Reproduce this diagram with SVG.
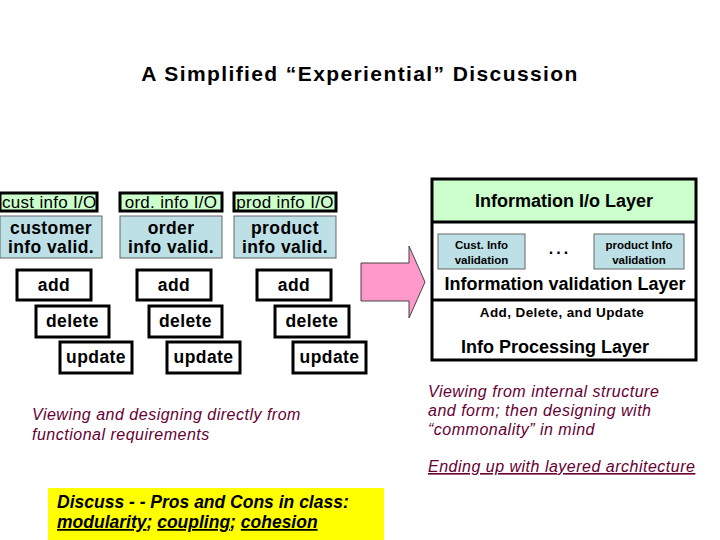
<svg xmlns="http://www.w3.org/2000/svg" width="720" height="540" viewBox="0 0 720 540">
<style>
  .io{fill:#ccffcc;stroke:#000;stroke-width:3}
  .val{fill:#bde0e6;stroke:#666;stroke-width:1}
  .op{fill:#fff;stroke:#000;stroke-width:3}
  .t{font-family:"Liberation Sans",Arial,sans-serif;fill:#000}
  .iot{font-size:17px;letter-spacing:0.3px}
  .b{font-weight:bold}
  .lt{font-size:17.5px;font-weight:bold;letter-spacing:0.4px}
  .lay{font-size:18px;font-weight:bold}
  .sm{font-size:11.5px;font-weight:bold}
  .it{font-family:"Liberation Sans",Arial,sans-serif;font-style:italic;font-size:16px;fill:#660033;letter-spacing:0.5px}
  .u{text-decoration:underline}
</style>
<rect width="720" height="540" fill="#fff"/>
<g id="title">
  <text class="t b" x="360" y="81" font-size="21" letter-spacing="1.4" text-anchor="middle">A Simplified “Experiential” Discussion</text>
</g>

<g id="cust-io"><rect class="io" x="0" y="193" width="97" height="18"/><text class="t iot" x="2" y="208">cust info I/O</text></g>
<g id="ord-io"><rect class="io" x="120" y="193" width="102" height="18"/><text class="t iot" x="171" y="208" text-anchor="middle">ord. info I/O</text></g>
<g id="prod-io"><rect class="io" x="234" y="193" width="102" height="18"/><text class="t iot" x="285" y="208" text-anchor="middle">prod info I/O</text></g>

<g id="cust-val"><rect class="val" x="0" y="216" width="102" height="42"/><text class="t lt" x="51" y="234" text-anchor="middle">customer</text><text class="t lt" x="51" y="253" text-anchor="middle">info valid.</text></g>
<g id="ord-val"><rect class="val" x="120" y="216" width="102" height="42"/><text class="t lt" x="171" y="234" text-anchor="middle">order</text><text class="t lt" x="171" y="253" text-anchor="middle">info valid.</text></g>
<g id="prod-val"><rect class="val" x="234" y="216" width="102" height="42"/><text class="t lt" x="285" y="234" text-anchor="middle">product</text><text class="t lt" x="285" y="253" text-anchor="middle">info valid.</text></g>

<g id="add1"><rect class="op" x="17" y="270" width="74" height="30"/><text class="t lt" x="54" y="291" text-anchor="middle">add</text></g>
<g id="add2"><rect class="op" x="137" y="270" width="74" height="30"/><text class="t lt" x="174" y="291" text-anchor="middle">add</text></g>
<g id="add3"><rect class="op" x="257" y="270" width="74" height="30"/><text class="t lt" x="294" y="291" text-anchor="middle">add</text></g>

<g id="delete1"><rect class="op" x="36" y="306" width="73" height="31"/><text class="t lt" x="72.5" y="327" text-anchor="middle">delete</text></g>
<g id="delete2"><rect class="op" x="149" y="306" width="73" height="31"/><text class="t lt" x="185.5" y="327" text-anchor="middle">delete</text></g>
<g id="delete3"><rect class="op" x="275" y="306" width="74" height="31"/><text class="t lt" x="312" y="327" text-anchor="middle">delete</text></g>

<g id="update1"><rect class="op" x="60" y="342" width="72" height="31"/><text class="t lt" x="96" y="363" text-anchor="middle">update</text></g>
<g id="update2"><rect class="op" x="167" y="342" width="73" height="31"/><text class="t lt" x="203.5" y="363" text-anchor="middle">update</text></g>
<g id="update3"><rect class="op" x="293" y="342" width="73" height="31"/><text class="t lt" x="329.5" y="363" text-anchor="middle">update</text></g>

<g id="connectors">
  <polygon points="361,263 409,263 409,246 425,282 409,318 409,301 361,301" fill="#ff99cc" stroke="#444" stroke-width="1"/>
</g>

<g id="layers">
  <rect x="432" y="179" width="264" height="43" fill="#ccffcc"/>
  <rect x="432" y="179" width="264" height="181" fill="none" stroke="#000" stroke-width="3"/>
  <line x1="432" y1="222" x2="696" y2="222" stroke="#000" stroke-width="3"/>
  <line x1="432" y1="300" x2="696" y2="300" stroke="#000" stroke-width="3"/>
  <text class="t lay" x="564" y="207" text-anchor="middle">Information I/o Layer</text>
  <text class="t lay" x="565" y="290" text-anchor="middle">Information validation Layer</text>
  <text class="t b" x="562" y="317" font-size="13.5" letter-spacing="0.4" text-anchor="middle">Add, Delete, and Update</text>
  <text class="t lay" x="555" y="353" text-anchor="middle">Info Processing Layer</text>
</g>
<g id="cust-info-validation"><rect class="val" x="438" y="234" width="87" height="35"/><text class="t sm" x="481.5" y="249" text-anchor="middle">Cust. Info</text><text class="t sm" x="481.5" y="264" text-anchor="middle">validation</text></g>
<g id="ellipsis"><text class="t b" x="560" y="254" font-size="16" letter-spacing="3" text-anchor="middle">...</text></g>
<g id="product-info-validation"><rect class="val" x="594" y="234" width="90" height="35"/><text class="t sm" x="639" y="249" text-anchor="middle">product Info</text><text class="t sm" x="639" y="264" text-anchor="middle">validation</text></g>

<g id="left-note">
  <text class="it" x="32" y="420">Viewing and designing directly from</text>
  <text class="it" x="32" y="440">functional requirements</text>
</g>
<g id="right-note">
  <text class="it" x="428" y="397">Viewing from internal structure</text>
  <text class="it" x="428" y="416">and form; then designing with</text>
  <text class="it" x="428" y="435">“commonality” in mind</text>
  <text class="it u" x="428" y="472">Ending up with layered architecture</text>
</g>
<g id="discuss">
  <rect x="48" y="488" width="336" height="52" fill="#ffff00"/>
  <text class="t" x="57" y="508" font-size="17.5" font-weight="bold" font-style="italic">Discuss - - Pros and Cons in class:</text>
  <text class="t" x="57" y="528" font-size="17.5" font-weight="bold" font-style="italic"><tspan class="u">modularity</tspan>; <tspan class="u">coupling</tspan>; <tspan class="u">cohesion</tspan></text>
</g>
</svg>
